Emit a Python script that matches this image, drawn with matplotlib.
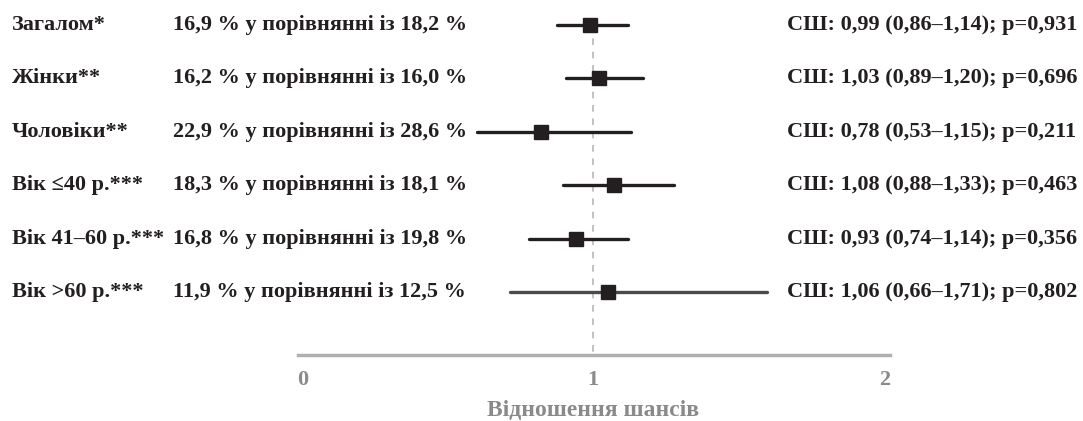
import matplotlib.pyplot as plt
import matplotlib.transforms as mtransforms

# === DONNEES ===
groups = ["Загалом*", "Жінки**", "Чоловіки**", "Вік ≤40 р.***", "Вік 41–60 р.***", "Вік >60 р.***"]
comparisons = [
    "16,9 % у порівнянні із 18,2 %",
    "16,2 % у порівнянні із 16,0 %",
    "22,9 % у порівнянні із 28,6 %",
    "18,3 % у порівнянні із 18,1 %",
    "16,8 % у порівнянні із 19,8 %",
    "11,9 % у порівнянні із 12,5 %",
]
or_labels = [
    "СШ: 0,99 (0,86–1,14); p=0,931",
    "СШ: 1,03 (0,89–1,20); p=0,696",
    "СШ: 0,78 (0,53–1,15); p=0,211",
    "СШ: 1,08 (0,88–1,33); p=0,463",
    "СШ: 0,93 (0,74–1,14); p=0,356",
    "СШ: 1,06 (0,66–1,71); p=0,802",
]
# values as drawn in the picture
or_point = [0.99, 1.02, 0.82, 1.07, 0.94, 1.05]
ci_low = [0.875, 0.905, 0.60, 0.897, 0.778, 0.714]
ci_high = [1.119, 1.17, 1.128, 1.279, 1.119, 1.596]
line_colors = ["#231f20"] * 5 + ["#4a4a4a"]

W, H = 1083, 421
fig = plt.figure(figsize=(W / 100, H / 100), dpi=100)
plt.rcParams["font.family"] = ["Liberation Serif", "DejaVu Serif"]

# axes placed in pixels
ax_l, ax_r, ax_t, ax_b = 298, 890, 10, 355
ax = fig.add_axes([ax_l / W, 1 - ax_b / H, (ax_r - ax_l) / W, (ax_b - ax_t) / H])

x0_px, unit_px = 302.3, 291.0
ax.set_xlim((ax_l - x0_px) / unit_px, (ax_r - x0_px) / unit_px)
row0_px, step_px = 25.0, 53.4
ax.set_ylim((ax_b - row0_px) / step_px, (ax_t - row0_px) / step_px)

ypos = list(range(len(groups)))

ax.plot([1, 1], [0, (ax_b - row0_px) / step_px], ls=(0, (4, 4)), color="#b8b8b8", lw=1.2, zorder=1)

for i in ypos:
    ax.plot([ci_low[i], ci_high[i]], [i, i], color=line_colors[i], lw=2.4, solid_capstyle="round", zorder=2)
    ax.plot(or_point[i], i, marker="s", ms=10, color="#231f20", zorder=3)

for s in ["top", "right", "left"]:
    ax.spines[s].set_visible(False)
ax.spines["bottom"].set_color("#b0b0b0")
ax.spines["bottom"].set_linewidth(2.5)
ax.set_yticks([])
ax.set_xticks([0, 1, 2])
ax.set_xticklabels(["0", "1", "2"])
ax.tick_params(axis="x", length=0, pad=11, labelsize=16, labelcolor="#8a8a8a")
for lab in ax.get_xticklabels():
    lab.set_fontweight("bold")
fig.text((x0_px + unit_px) / W, 1 - 410 / H, "Відношення шансів", ha="center", va="center",
         fontsize=17, fontweight="bold", color="#8a8a8a")

trans = mtransforms.blended_transform_factory(fig.transFigure, ax.transData)
for i in ypos:
    kw = dict(transform=trans, va="center", fontsize=16, fontweight="bold", color="#231f20")
    ax.text(12 / W, i, groups[i], ha="left", **kw)
    ax.text(173 / W, i, comparisons[i], ha="left", **kw)
    ax.text(787 / W, i, or_labels[i], ha="left", **kw)

plt.savefig("out.png", dpi=100)
